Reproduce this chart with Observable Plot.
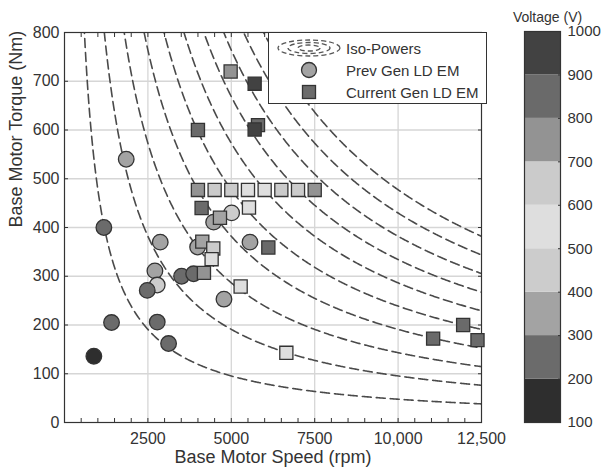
<!DOCTYPE html>
<html><head><meta charset="utf-8">
<script src="https://cdn.jsdelivr.net/npm/d3@7"></script>
<script src="https://cdn.jsdelivr.net/npm/@observablehq/plot@0.6"></script>
<style>
body{margin:0;background:#fff;}
#wrap{position:relative;width:603px;height:475px;font-family:"Liberation Sans",Arial,sans-serif;}
#wrap svg{position:absolute;overflow:visible;}
#legend{position:absolute;left:268px;top:32px;width:219px;height:72px;background:#fff;border:1px solid #333;box-sizing:border-box;}
#legend svg{position:absolute;left:0;top:0;}
</style></head><body><div id="wrap"></div>
<script>
// ---- data ----
const isoPowersKW = [50, 100, 150, 200, 250, 300, 350, 400, 450, 500];

const prevRpm    = [880, 1180, 1410, 1850, 2710, 2780, 2480, 2780, 2870, 3120, 3510, 3870, 3990, 4470, 4780, 5010, 5560];
const prevTorque = [136, 400, 205, 540, 311, 282, 271, 206, 370, 162, 300, 305, 360, 411, 253, 430, 370];
const prevVolt   = [150, 250, 250, 350, 350, 450, 250, 250, 350, 250, 250, 250, 350, 350, 350, 450, 350];

const currRpm    = [4980, 5700, 4000, 5800, 5700, 4000, 4500, 5000, 5500, 6000, 6500, 7000, 7500, 4110, 5530, 4660, 4130, 4460, 4410, 4180, 5280, 6110, 6650, 11050, 11950, 12380];
const currTorque = [720, 695, 600, 610, 601, 477, 477, 477, 477, 477, 477, 477, 477, 440, 441, 420, 371, 357, 335, 307, 279, 359, 143, 172, 200, 169];
const currVolt   = [750, 950, 850, 850, 950, 750, 650, 650, 550, 550, 650, 650, 750, 850, 550, 350, 350, 650, 550, 750, 550, 850, 550, 850, 850, 850];

const voltBreaks = [200, 300, 400, 500, 600, 700, 800, 900];
const voltColors = ["#2e2e2e", "#6b6b6b", "#a3a3a3", "#cccccc", "#dedede", "#cbcbcb", "#939393", "#6a6a6a", "#424242"];
const voltTicks  = [100, 200, 300, 400, 500, 600, 700, 800, 900, 1000];

const xTickValues = [2500, 5000, 7500, 10000, 12500];
const xTickText   = ["2500", "5000", "7500", "10,000", "12,500"];
const yTickValues = [0, 100, 200, 300, 400, 500, 600, 700, 800];

// ---- tables ----
const prev = prevRpm.map((r, i) => ({rpm: r, torque: prevTorque[i], volt: prevVolt[i]}));
const curr = currRpm.map((r, i) => ({rpm: r, torque: currTorque[i], volt: currVolt[i]}));
const rpmSamples = d3.range(300, 12501, 25);
const curves = isoPowersKW.flatMap(p => rpmSamples.map(n => ({power: p, rpm: n, torque: p * 1000 / (n * 2 * Math.PI / 60)})));
const bins = voltTicks.slice(0, -1).map((v, i) => ({lo: v, hi: voltTicks[i + 1], mid: v + 50}));

const colorScale = {type: "threshold", domain: voltBreaks, range: voltColors};
const font = "'Liberation Sans', Arial, sans-serif";

const main = Plot.plot({
  width: 500, height: 475,
  marginLeft: 64, marginRight: 19, marginTop: 32, marginBottom: 53,
  x: {domain: [0, 12500]},
  y: {domain: [0, 800]},
  color: colorScale,
  style: {fontFamily: font, fontSize: "16px", color: "#333", background: "transparent"},
  marks: [
    Plot.gridX([2500, 5000, 7500, 10000], {stroke: "#d6d6d6", strokeOpacity: 1, strokeWidth: 1.3}),
    Plot.gridY([100, 200, 300, 400, 500, 600, 700], {stroke: "#d6d6d6", strokeOpacity: 1, strokeWidth: 1.3}),
    Plot.line(curves, {x: "rpm", y: "torque", z: "power", stroke: "#4a4a4a", strokeWidth: 1.6, strokeDasharray: "9,5", clip: true}),
    Plot.frame({stroke: "#333", strokeWidth: 1.2}),
    Plot.axisX(d3.range(0, 12501, 500), {anchor: "bottom", tickSize: -4, tickFormat: () => "", label: null, stroke: "#333"}),
    Plot.axisX(d3.range(0, 12501, 500), {anchor: "top", tickSize: -4, tickFormat: () => "", label: null, stroke: "#333"}),
    Plot.axisX(xTickValues, {anchor: "bottom", tickSize: 0, tickPadding: 10, tickFormat: d => xTickText[xTickValues.indexOf(d)], label: null, fontSize: 16, fill: "#333"}),
    Plot.axisY(yTickValues, {anchor: "left", tickSize: -4, tickFormat: () => "", label: null, stroke: "#333"}),
    Plot.axisY(yTickValues, {anchor: "right", tickSize: -4, tickFormat: () => "", label: null, stroke: "#333"}),
    Plot.axisY(yTickValues, {anchor: "left", tickSize: 0, tickPadding: 5, tickFormat: d => String(d), label: null, fontSize: 16, fill: "#333"}),
    Plot.text(["Base Motor Torque (Nm)"], {frameAnchor: "left", dx: -48, rotate: -90, fontSize: 18, fill: "#333"}),
    Plot.text(["Base Motor Speed (rpm)"], {frameAnchor: "bottom", dy: 40, fontSize: 18, fill: "#333"}),
    Plot.dot(prev, {x: "rpm", y: "torque", r: 7.8, fill: "volt", stroke: "#333", strokeWidth: 1.3}),
    Plot.dot(curr, {x: "rpm", y: "torque", symbol: "square", r: 7.4, fill: "volt", stroke: "#333", strokeWidth: 1.3})
  ]
});
main.style.left = "0px"; main.style.top = "0px";

const cbar = Plot.plot({
  width: 103, height: 475,
  marginLeft: 24, marginRight: 43, marginTop: 31, marginBottom: 53,
  x: {domain: [0, 1], axis: null},
  y: {domain: [100, 1000]},
  color: colorScale,
  style: {fontFamily: font, fontSize: "15px", color: "#333", background: "transparent"},
  marks: [
    Plot.rect(bins, {x1: 0, x2: 1, y1: "lo", y2: "hi", fill: "mid"}),
    Plot.frame({stroke: "#333", strokeWidth: 1.2}),
    Plot.axisY(voltTicks, {anchor: "right", tickSize: -3, tickFormat: () => "", label: null, stroke: "#333"}),
    Plot.axisY(voltTicks, {anchor: "right", tickSize: 0, tickPadding: 7, tickFormat: d => String(d), label: null, fontSize: 15, fill: "#333"}),
    Plot.text(["Voltage (V)"], {frameAnchor: "top", dy: -19, dx: 5, fontSize: 14, fill: "#333"})
  ]
});
cbar.style.left = "500px"; cbar.style.top = "0px";

const wrap = document.getElementById("wrap");
wrap.appendChild(main);
wrap.appendChild(cbar);

// legend
const leg = document.createElement("div");
leg.id = "legend";
leg.innerHTML = `
<svg width="219" height="72" font-family="${font.replace(/'/g, "")}" font-size="15" fill="#333">
  <g fill="none" stroke="#555" stroke-width="1.3" stroke-dasharray="5,3">
    <ellipse cx="40" cy="15" rx="31" ry="8"/>
    <ellipse cx="40" cy="15" rx="21" ry="5.5"/>
    <ellipse cx="40" cy="15" rx="11" ry="3"/>
  </g>
  <circle cx="40" cy="37" r="7.5" fill="${voltColors[2]}" stroke="#333" stroke-width="1.3"/>
  <rect x="33.5" y="52.5" width="13" height="13" fill="${voltColors[1]}" stroke="#333" stroke-width="1.3"/>
  <text x="77" y="20.5">Iso-Powers</text>
  <text x="77" y="42.5">Prev Gen LD EM</text>
  <text x="77" y="64.5">Current Gen LD EM</text>
</svg>`;
wrap.appendChild(leg);
</script></body></html>
